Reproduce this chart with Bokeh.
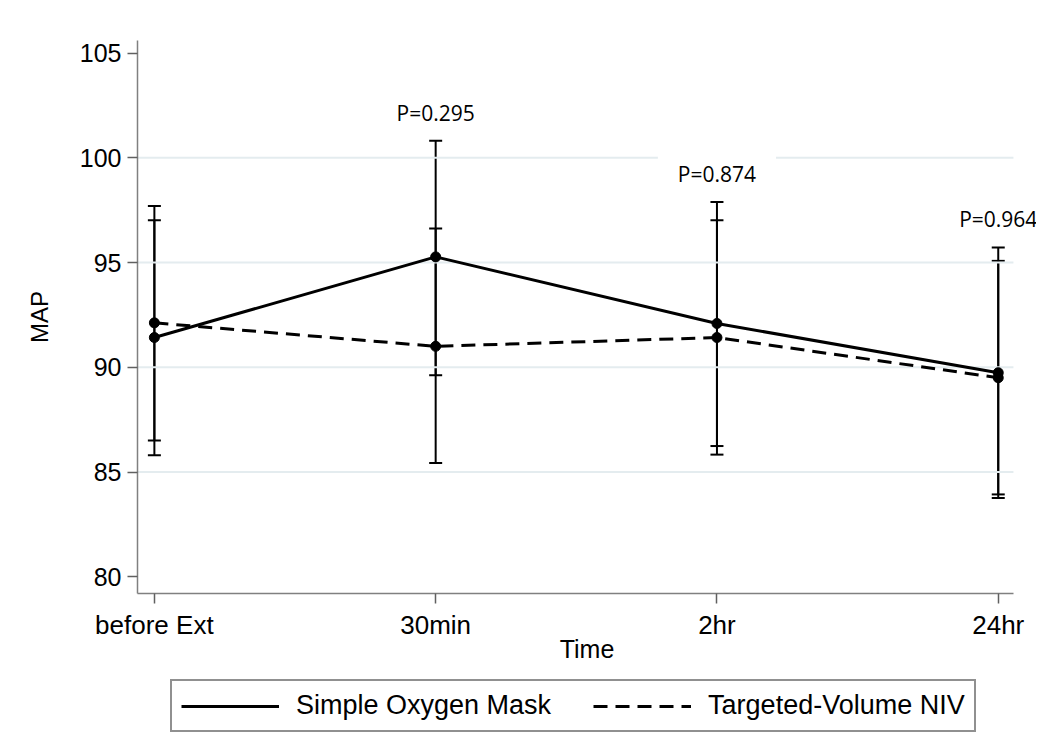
from bokeh.plotting import figure
from bokeh.layouts import column
from bokeh.models import (Whisker, TeeHead, Label, Legend, LegendItem, FixedTicker,
                          ColumnDataSource, Range1d)
from bokeh.embed import file_html
from bokeh.resources import INLINE

# ---- data ----
categories = ["before Ext", "30min", "2hr", "24hr"]
mask_mean = [91.42, 95.27, 92.09, 89.74]
mask_lower = [85.80, 89.62, 86.24, 83.76]
mask_upper = [97.02, 100.81, 97.89, 95.72]
niv_mean = [92.12, 91.00, 91.42, 89.50]
niv_lower = [86.51, 85.43, 85.83, 83.93]
niv_upper = [97.70, 96.62, 97.02, 95.08]
p_index = [1, 2, 3]
p_labels = ["P=0.295", "P=0.874", "P=0.964"]
series_names = ["Simple Oxygen Mask", "Targeted-Volume NIV"]
y_ticks = [80, 85, 90, 95, 100, 105]
grid_ticks = [85, 90, 95, 100]

xs = list(range(len(categories)))

# plot extents (layout)
X_START, X_AXIS_END, X_END = -0.06, 3.054, 3.136
Y_START, Y_END = 79.2, 105.6
W = 1036

src_mask = ColumnDataSource(dict(x=xs, y=mask_mean, lo=mask_lower, hi=mask_upper))
src_niv = ColumnDataSource(dict(x=xs, y=niv_mean, lo=niv_lower, hi=niv_upper))

p = figure(width=W, height=670, output_backend="svg", toolbar_location=None,
           x_range=Range1d(X_START, X_END), y_range=Range1d(Y_START, Y_END),
           min_border_left=137, min_border_right=0, min_border_top=40,
           min_border_bottom=77, outline_line_color=None,
           background_fill_color="white", border_fill_color="white")

# grid (drawn only up to the end of the x axis)
p.xgrid.visible = False
p.ygrid.visible = False
p.segment(x0=[X_START] * len(grid_ticks), x1=[X_AXIS_END] * len(grid_ticks),
          y0=grid_ticks, y1=grid_ticks, line_color="#e4ecef", line_width=2)

# axes
for ax in (p.xaxis[0], p.yaxis[0]):
    ax.axis_line_color = "#808080"
    ax.axis_line_width = 1.5
    ax.major_tick_line_color = "#606060"
    ax.major_tick_line_width = 1.5
    ax.major_tick_in = 0
    ax.major_tick_out = 10
    ax.minor_tick_line_color = None
    ax.major_label_text_font = "Liberation Sans"
    ax.major_label_text_color = "black"
    ax.axis_label_text_font = "Liberation Sans"
    ax.axis_label_text_font_style = "normal"
    ax.axis_label_text_color = "black"

p.xaxis.bounds = (X_START, X_AXIS_END)
p.xaxis.ticker = FixedTicker(ticks=xs)
p.xaxis.major_label_overrides = {i: c for i, c in zip(xs, categories)}
p.xaxis.major_label_text_font_size = "26px"
p.xaxis.major_label_standoff = 6
p.xaxis.axis_label = "Time"
p.xaxis.axis_label_text_font_size = "25px"
p.xaxis.axis_label_standoff = -8

p.yaxis.ticker = FixedTicker(ticks=y_ticks)
p.yaxis.major_label_text_font_size = "25px"
p.yaxis.major_label_standoff = 6
p.yaxis.major_label_orientation = "horizontal"
p.yaxis.axis_label = "MAP"
p.yaxis.axis_label_text_font_size = "24px"
p.yaxis.axis_label_standoff = 24

# error bars
for src in (src_mask, src_niv):
    w = Whisker(base="x", lower="lo", upper="hi", source=src, dimension="height",
                line_color="black", line_width=2,
                upper_head=TeeHead(size=13, line_color="black", line_width=2),
                lower_head=TeeHead(size=13, line_color="black", line_width=2))
    p.add_layout(w)

# lines
SOLID = dict(line_color="black", line_width=3)
DASHED = dict(line_color="black", line_width=3, line_dash="14 8")
p.line("x", "y", source=src_mask, **SOLID)
p.line("x", "y", source=src_niv, **DASHED)
p.scatter("x", "y", source=src_mask, size=10, color="black")
p.scatter("x", "y", source=src_niv, size=10, color="black")

# p-value labels
for i, t in zip(p_index, p_labels):
    ytop = max(mask_upper[i], niv_upper[i]) + 1.35
    p.add_layout(Label(x=xs[i], y=ytop, text=t, text_align="center",
                       text_baseline="middle", text_font="Open Sans",
                       text_font_size="21px", text_color="black",
                       background_fill_color="white",
                       padding=dict(x=20, y=8)))

# ---- legend strip below the plot ----
pl = figure(width=W, height=77, output_backend="svg", toolbar_location=None,
            x_range=Range1d(0, 1), y_range=Range1d(0, 1),
            x_axis_location=None, y_axis_location=None, min_border=0,
            outline_line_color=None, background_fill_color="white",
            border_fill_color="white")
pl.grid.visible = False
# legend proxies (series data lies outside this strip's visible range)
l_mask = pl.line("x", "y", source=src_mask, **SOLID)
l_niv = pl.line("x", "y", source=src_niv, **DASHED)

legend = Legend(items=[LegendItem(label=series_names[0], renderers=[l_mask]),
                       LegendItem(label=series_names[1], renderers=[l_niv])],
                orientation="horizontal", location=(33, 15),
                glyph_width=98, glyph_height=22, label_standoff=17, spacing=42,
                padding=9, border_line_color="#222222", border_line_width=2,
                label_text_font="Liberation Sans", label_text_font_size="27px",
                label_text_color="black", background_fill_color="white", margin=0)
pl.add_layout(legend, "center")

layout = column(p, pl, spacing=0)
open("out.html", "w").write(file_html(layout, INLINE))
